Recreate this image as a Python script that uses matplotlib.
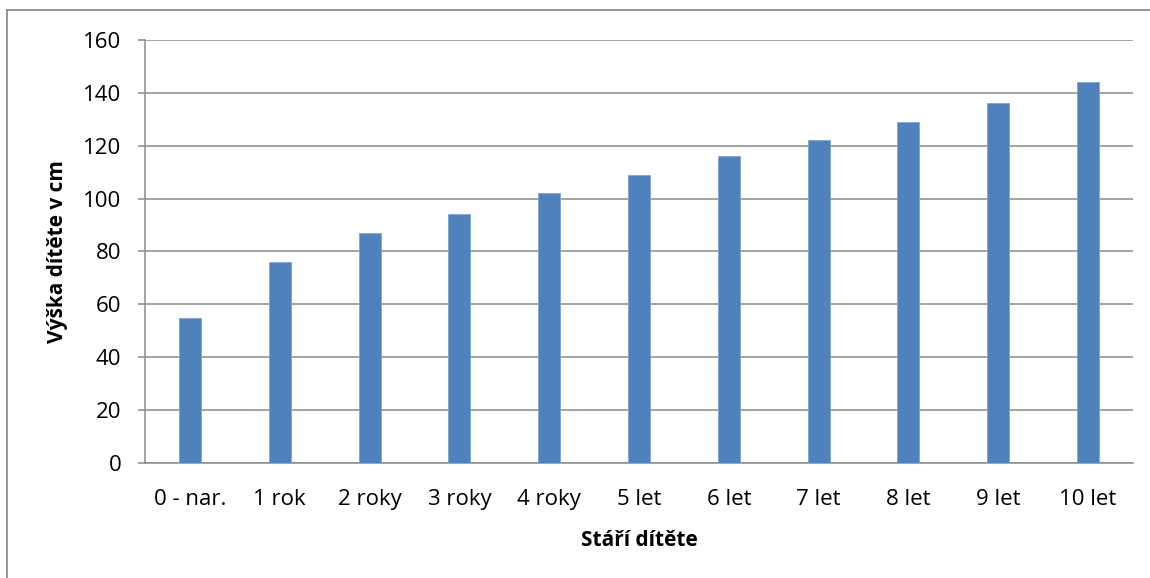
import matplotlib.pyplot as plt
from matplotlib.lines import Line2D

plt.rcParams['font.family'] = ['Open Sans', 'DejaVu Sans']

# ages and heights
categories = ['0 - nar.', '1 rok', '2 roky', '3 roky', '4 roky', '5 let',
              '6 let', '7 let', '8 let', '9 let', '10 let']
heights = [55, 76, 87, 94, 102, 109, 116, 122, 129, 136, 144]
yticks = [0, 20, 40, 60, 80, 100, 120, 140, 160]

W, H = 1150, 578
fig = plt.figure(figsize=(W / 100, H / 100), dpi=100)
ax = fig.add_axes([145 / W, 1 - 463 / H, (1133 - 145) / W, (463 - 40) / H])

x = range(len(categories))
ax.bar(x, heights, width=0.245, color='#4F81BD', edgecolor='#7FA4D4',
       linewidth=0.6, zorder=3)

ax.set_xlim(-0.5, len(categories) - 0.5)
ax.set_ylim(0, 160)
ax.set_yticks(yticks)
ax.set_xticks(list(x))
ax.set_xticklabels(categories)

ax.grid(axis='y', color='#8C8C8C', linewidth=1.1, zorder=0)
for s in ['top', 'right']:
    ax.spines[s].set_visible(False)
for s in ['left', 'bottom']:
    ax.spines[s].set_color('#8C8C8C')
    ax.spines[s].set_linewidth(1.1)

ax.tick_params(axis='y', length=5, color='#8C8C8C', width=1.1,
               labelsize=16, pad=12)
ax.tick_params(axis='x', length=0, labelsize=16, pad=19)

ax.set_xlabel('Stáří dítěte', fontsize=15, fontweight='bold', labelpad=14)
ax.set_ylabel('Výška dítěte v cm', fontsize=15, fontweight='bold', labelpad=11)

# outer chart border (left and top edges visible)
fig.add_artist(Line2D([7 / W, 7 / W], [0, 1 - 10 / H], transform=fig.transFigure,
                      color='#8C8C8C', linewidth=1.3))
fig.add_artist(Line2D([7 / W, 1], [1 - 10 / H, 1 - 10 / H], transform=fig.transFigure,
                      color='#8C8C8C', linewidth=1.3))

fig.savefig('out.png', dpi=100)
